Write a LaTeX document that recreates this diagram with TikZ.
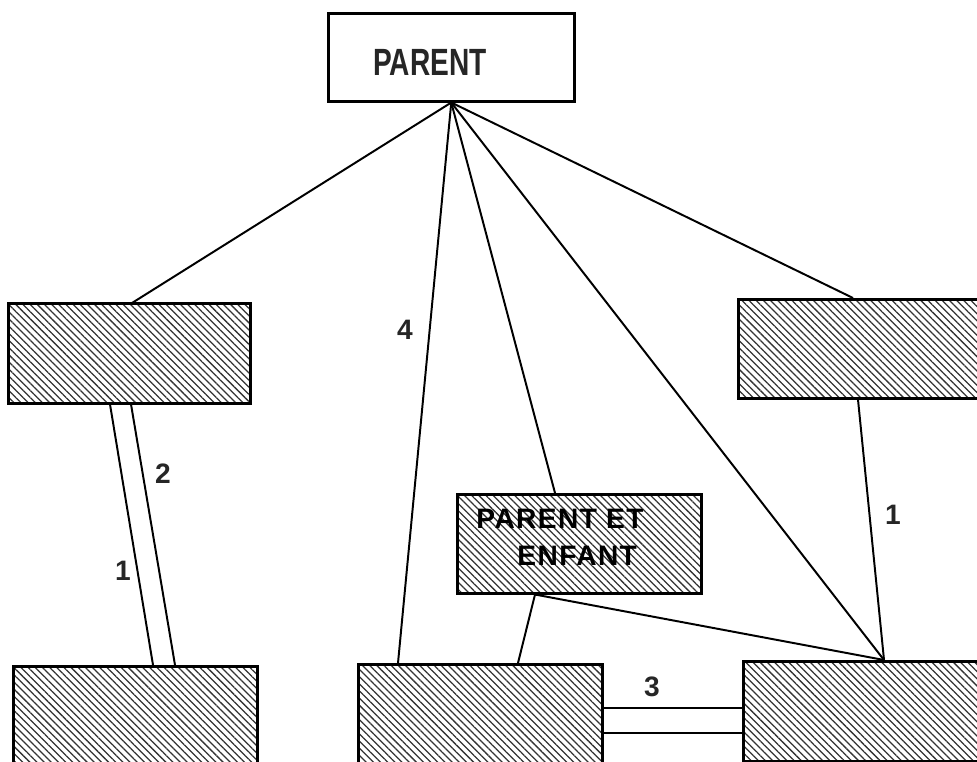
\documentclass[tikz,border=0pt]{standalone}
\usepackage{fontspec}
\setmainfont{Liberation Sans}
\usepackage{tikz}
\usetikzlibrary{patterns.meta,positioning,calc}

\begin{document}
\begin{tikzpicture}[
    plainbox/.style={rectangle, draw=black, line width=1.8pt, fill=white,
                     minimum width=6.15cm, minimum height=2.2cm, anchor=north west},
    hatchbox/.style={rectangle, draw=black, line width=1.8pt,
                     pattern={Lines[angle=-45, distance=3.6pt, line width=0.9pt]},
                     pattern color=black!80,
                     minimum width=6.1cm, minimum height=2.5cm, anchor=north west},
    link/.style={draw, line width=1.4pt, black},
    num/.style={font=\fontsize{20}{24}\selectfont\bfseries, text=black!85, inner sep=0pt},
    title/.style={font=\fontsize{27}{31}\selectfont\bfseries, xscale=0.74, transform shape,
                  text=black!85, inner sep=0pt},
    heavy/.style={font=\fontsize{20}{24}\selectfont\bfseries\addfontfeatures{LetterSpace=5},
                  text=black, inner sep=0pt}
]
    \useasboundingbox (0,0) rectangle (24.425,19.025);
    \clip (0,0) rectangle (24.425,19.025);

    % boxes
    \node [plainbox] (parent) at (8.175,18.725) {};
    \node [title] (parenttxt) at (10.75,17.475) {PARENT};
    \node [hatchbox, minimum width=6.05cm] (tl) at (0.2,11.45) {};
    \node [hatchbox, minimum height=2.475cm] (tr) at (18.425,11.575) {};
    \node [hatchbox, minimum height=2.475cm] (pee) at (11.4,6.7) {};
    \node [heavy] (peetxt1) at (14.0,6.06) {PARENT ET};
    \node [heavy] (peetxt2) at (14.43,5.125) {ENFANT};
    \node [hatchbox] (bl) at (0.3,2.4) {};
    \node [hatchbox] (bm) at (8.925,2.45) {};
    \node [hatchbox] (br) at (18.55,2.525) {};

    % links from the parent
    \path [link] (parent.south) -- ([xshift=3.1cm]tl.north west);
    \path [link] (parent.south) -- ([xshift=2.9cm]tr.north west);
    \path [link] (parent.south) -- ([xshift=1.025cm]bm.north west);
    \path [link] (parent.south) -- ([xshift=2.475cm]pee.north west);
    \path [link] (parent.south) -- ([xshift=3.55cm]br.north west);

    % other links
    \path [link] ([xshift=3.025cm]tr.south west) -- ([xshift=3.55cm]br.north west);
    \path [link] ([xshift=1.975cm]pee.south west) -- ([xshift=4.025cm]bm.north west);
    \path [link] ([xshift=1.975cm]pee.south west) -- ([xshift=3.55cm]br.north west);
    \path [link] ([xshift=2.55cm]tl.south west) -- ([xshift=3.525cm]bl.north west);
    \path [link] ([xshift=3.075cm]tl.south west) -- ([xshift=4.075cm]bl.north west);
    \path [link] ([yshift=-1.125cm]bm.north east) -- ([yshift=-1.125cm]bm.north east -| br.west);
    \path [link] ([yshift=-1.75cm]bm.north east) -- ([yshift=-1.75cm]bm.north east -| br.west);

    % labels
    \node [num] (lbl4) at (10.125,10.775) {4};
    \node [num] (lbl2) at (4.075,7.175) {2};
    \node [num] (lbl1a) at (3.075,4.75) {1};
    \node [num] (lbl1b) at (22.325,6.15) {1};
    \node [num] (lbl3) at (16.3,1.85) {3};
\end{tikzpicture}
\end{document}
